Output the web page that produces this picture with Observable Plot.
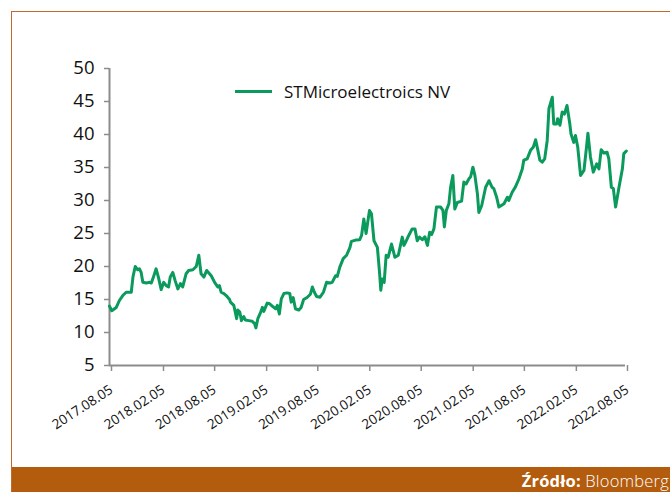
<!DOCTYPE html>
<html><head><meta charset="utf-8">
<script src="https://cdn.jsdelivr.net/npm/d3@7"></script>
<script src="https://cdn.jsdelivr.net/npm/@observablehq/plot@0.6"></script>
<style>
html,body{margin:0;padding:0;background:#fff;}
#wrap{position:relative;width:670px;height:492px;overflow:hidden;background:#fff;font-family:"Open Sans",sans-serif;}
#frame{position:absolute;left:11px;top:11px;width:670px;height:490px;border-left:1px solid #c0692a;border-top:1px solid #c0692a;}
#chart{position:absolute;left:0;top:0;}
#legend{position:absolute;left:235px;top:79px;height:24px;display:flex;align-items:center;font-size:17px;color:#111;white-space:nowrap;}
#legend .sw{display:inline-block;width:37px;height:3px;background:#0a9a5c;margin-right:12px;}
#footer{position:absolute;left:12px;top:467px;width:658px;height:25px;background:#b35c0e;}
#footer .src{position:absolute;right:1px;top:0;color:#fff;font-size:16.5px;line-height:27px;white-space:nowrap;letter-spacing:0.2px;}
#footer b{font-weight:700;}
#footer span span{font-weight:300;}
</style>
</head><body>
<div id="wrap">
  <div id="frame"></div>
  <div id="chart"></div>
  <div id="legend"><span class="sw"></span><span id="legtext"></span></div>
  <div id="footer"><span class="src"><b>Źródło:</b> <span id="srctext"></span></span></div>
</div>
<script>
const seriesName = "STMicroelectroics NV";
const sourceLabel = "Bloomberg";
const yTicks = [5,10,15,20,25,30,35,40,45,50];
const xTickLabels = ["2017.08.05","2018.02.05","2018.08.05","2019.02.05","2019.08.05","2020.02.05","2020.08.05","2021.02.05","2021.08.05","2022.02.05","2022.08.05"];
const dates = [
"2017-08-05","2017-08-13","2017-08-29","2017-09-09","2017-09-21","2017-10-03","2017-10-21","2017-10-27","2017-11-04","2017-11-13",
"2017-11-19","2017-11-25","2017-12-01","2017-12-13","2017-12-25","2017-12-31","2018-01-09","2018-01-17","2018-01-25","2018-02-04",
"2018-02-13","2018-02-22","2018-03-02","2018-03-08","2018-03-17","2018-03-25","2018-04-04","2018-04-13","2018-04-21","2018-05-03",
"2018-05-12","2018-05-27","2018-06-08","2018-06-17","2018-06-25","2018-07-05","2018-07-15","2018-07-31","2018-08-12","2018-08-23",
"2018-08-29","2018-09-04","2018-09-14","2018-09-22","2018-10-04","2018-10-07","2018-10-19","2018-10-29","2018-11-02","2018-11-09",
"2018-11-15","2018-11-23","2018-11-29","2018-12-11","2018-12-23","2018-12-31","2019-01-05","2019-01-12","2019-01-22","2019-01-28",
"2019-02-02","2019-02-14","2019-02-23","2019-03-07","2019-03-16","2019-03-22","2019-03-29","2019-04-05","2019-04-14","2019-04-26",
"2019-05-05","2019-05-10","2019-05-17","2019-05-25","2019-06-06","2019-06-14","2019-06-23","2019-07-05","2019-07-17","2019-07-24",
"2019-07-31","2019-08-08","2019-08-20","2019-09-01","2019-09-12","2019-09-24","2019-10-02","2019-10-14","2019-10-20","2019-10-29",
"2019-11-10","2019-11-22","2019-12-04","2019-12-09","2019-12-24","2020-01-07","2020-01-14","2020-01-22","2020-01-30","2020-02-11",
"2020-02-18","2020-02-27","2020-03-10","2020-03-18","2020-03-22","2020-03-27","2020-04-03","2020-04-10","2020-04-17","2020-04-29",
"2020-05-11","2020-05-23","2020-06-06","2020-06-12","2020-06-18","2020-06-29","2020-07-11","2020-07-21","2020-07-29","2020-08-06",
"2020-08-16","2020-08-25","2020-09-03","2020-09-11","2020-09-18","2020-09-26","2020-10-05","2020-10-20","2020-10-28","2020-11-02",
"2020-11-09","2020-11-18","2020-11-24","2020-12-02","2020-12-09","2020-12-18","2021-01-02","2021-01-10","2021-01-18","2021-01-28",
"2021-02-03","2021-02-11","2021-02-18","2021-02-27","2021-03-04","2021-03-14","2021-03-28","2021-04-09","2021-04-20","2021-04-26",
"2021-05-06","2021-05-14","2021-06-01","2021-06-13","2021-06-18","2021-06-30","2021-07-12","2021-07-24","2021-08-05","2021-08-10",
"2021-08-22","2021-09-03","2021-09-13","2021-09-21","2021-09-29","2021-10-06","2021-10-14","2021-10-23","2021-11-01","2021-11-07",
"2021-11-19","2021-11-24","2021-12-04","2021-12-08","2021-12-16","2021-12-24","2022-01-01","2022-01-10","2022-01-20","2022-01-24",
"2022-02-03","2022-02-09","2022-02-17","2022-02-27","2022-03-11","2022-03-20","2022-03-25","2022-04-03","2022-04-13","2022-04-25",
"2022-05-03","2022-05-11","2022-05-20","2022-06-01","2022-06-07","2022-06-16","2022-06-23","2022-07-01","2022-07-13","2022-07-25",
"2022-07-30","2022-08-08"
];
const values = [
14.0,13.3,13.8,14.85,15.6,16.1,16.1,18.4,20.0,19.5,
19.65,19.1,17.6,17.5,17.6,17.5,18.6,19.65,18.4,16.5,
17.6,17.1,16.9,18.4,19.1,17.9,16.6,17.4,16.9,18.9,
19.4,19.5,20.0,21.7,18.9,18.4,19.4,18.6,17.6,16.9,
17.1,16.1,15.9,15.6,15.0,14.6,14.1,12.1,13.4,13.1,
11.8,12.4,11.9,11.8,11.7,11.4,10.7,12.1,13.1,13.8,
13.2,14.45,14.35,13.9,13.6,14.1,12.8,15.1,15.9,16.0,
15.9,14.6,15.3,13.6,13.4,13.8,15.0,15.3,15.8,16.9,
16.1,15.45,15.35,16.1,17.6,17.5,17.6,18.6,18.5,19.9,
21.2,21.7,22.9,23.8,24.0,24.05,24.7,27.2,25.0,28.5,
28.0,23.9,22.9,18.9,16.4,18.1,17.6,21.7,21.4,23.4,
21.4,21.7,24.45,23.2,23.7,24.7,25.7,25.7,23.9,24.45,
24.05,24.5,23.2,25.2,24.85,25.7,29.0,29.0,28.5,26.0,
28.5,29.5,32.0,33.8,28.7,29.7,29.9,32.8,32.5,33.3,
33.6,35.05,33.8,31.0,28.2,29.2,32.0,33.0,32.0,31.8,
30.5,29.0,29.5,30.5,30.0,31.25,32.1,33.3,34.8,36.1,
36.3,37.6,38.1,39.2,37.6,36.1,35.8,36.3,39.1,43.9,
45.65,41.6,41.6,42.4,41.4,43.4,43.1,44.4,41.6,40.1,
38.8,39.85,38.1,33.8,34.55,38.1,40.2,36.6,34.3,35.55,
34.8,37.7,37.2,37.3,36.3,32.0,31.8,29.0,32.0,34.8,
37.1,37.5
];

const parse = d3.utcParse("%Y-%m-%d");
const parseTick = d3.utcParse("%Y.%m.%d");
const data = dates.map((d, i) => ({date: parse(d), value: values[i]}));
const tickDates = xTickLabels.map(parseTick);
const fmt = d3.utcFormat("%Y.%m.%d");

document.getElementById("legtext").textContent = seriesName;
document.getElementById("srctext").textContent = sourceLabel;

const axisColor = "#8c8c8c";
const chart = Plot.plot({
  width: 670,
  height: 467,
  marginLeft: 109,
  marginRight: 45,
  marginTop: 68,
  marginBottom: 102,
  style: {fontFamily: "'Open Sans', sans-serif", color: "#111", background: "transparent", overflow: "visible"},
  x: {type: "utc", domain: [tickDates[0], tickDates[tickDates.length - 1]]},
  y: {domain: [5, 50]},
  marks: [
    Plot.ruleY([5], {stroke: axisColor, strokeWidth: 2}),
    Plot.ruleX([tickDates[0]], {stroke: axisColor, strokeWidth: 2}),
    Plot.axisY({ticks: yTicks, tickSize: 5, tickPadding: 10, stroke: axisColor, strokeWidth: 1.5, fontSize: 18.5, label: null, tickFormat: d => String(d)}),
    Plot.axisX({ticks: tickDates, tickSize: 6, tickPadding: 17, dx: 2, stroke: axisColor, strokeWidth: 1.5, fontSize: 13.5, tickRotate: -33, label: null, tickFormat: fmt}),
    Plot.line(data, {x: "date", y: "value", stroke: "#0a9a5c", strokeWidth: 3, curve: "linear", strokeLinejoin: "round"})
  ]
});
document.getElementById("chart").appendChild(chart);
</script>
</body></html>
